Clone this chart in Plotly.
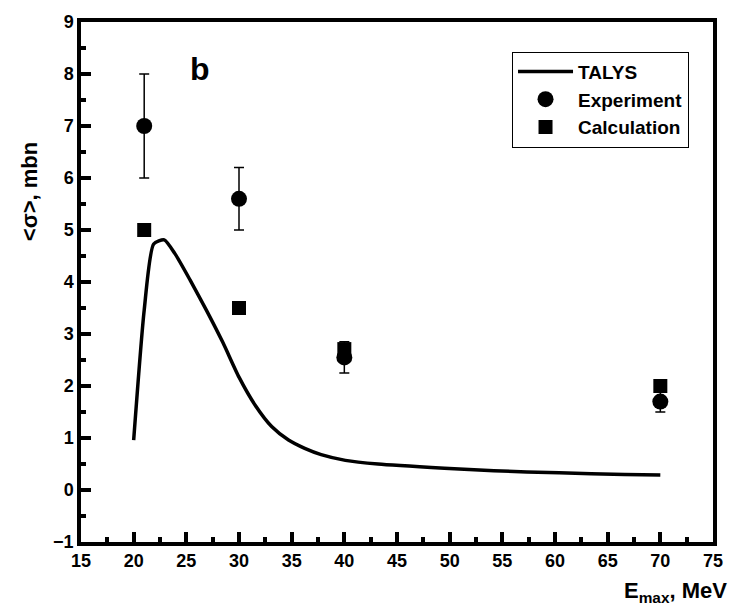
import plotly.graph_objects as go

talys_x = [20, 21, 21.9, 22.9, 23.9, 25.35, 26.9, 28.46, 30.0, 31.57, 33.1, 34.7, 36.24, 37.8, 40.1, 43.2, 49.5, 54.2, 60.4, 66.6, 70]
talys_y = [0.96, 3.46, 4.73, 4.81, 4.55, 4.04, 3.46, 2.84, 2.17, 1.62, 1.22, 0.96, 0.8, 0.68, 0.57, 0.5, 0.42, 0.37, 0.33, 0.30, 0.29]

exp_x = [21, 30, 40, 70]
exp_y = [7.0, 5.6, 2.55, 1.7]
exp_err = [1.0, 0.6, 0.3, 0.2]

calc_x = [21, 30, 40, 70]
calc_y = [5.0, 3.5, 2.71, 2.0]

FONT = "Arial, Liberation Sans, sans-serif"

fig = go.Figure()
fig.add_trace(go.Scatter(x=talys_x, y=talys_y, mode="lines", name="TALYS",
                         line=dict(color="black", width=3.5, shape="spline", smoothing=0.6)))
fig.add_trace(go.Scatter(x=exp_x, y=exp_y, mode="markers", name="Experiment",
                         marker=dict(symbol="circle", size=16, color="black"),
                         error_y=dict(type="data", array=exp_err, color="black",
                                      thickness=1.5, width=5)))
fig.add_trace(go.Scatter(x=calc_x, y=calc_y, mode="markers", name="Calculation",
                         marker=dict(symbol="square", size=14, color="black")))

axis_common = dict(showline=True, linecolor="black", linewidth=3.5, mirror=True,
                   ticks="inside", ticklen=10, tickwidth=3.5, tickcolor="black",
                   showgrid=False, zeroline=False,
                   tickfont=dict(family=FONT, size=18, color="black", weight="bold"))

fig.update_xaxes(range=[15, 75], tick0=15, dtick=5,
                 minor=dict(ticks="inside", ticklen=5, tickwidth=3.5, tickcolor="black", dtick=2.5),
                 **axis_common)
fig.update_yaxes(range=[-1, 9], tick0=-1, dtick=1,
                 minor=dict(ticks="inside", ticklen=5, tickwidth=3.5, tickcolor="black", dtick=0.5),
                 **axis_common)

fig.add_annotation(text="b", x=26.3, y=8.1, xref="x", yref="y", showarrow=False,
                   font=dict(family=FONT, size=32, color="black", weight="bold"))
fig.add_annotation(text="<σ>, mbn", x=-0.082, y=0.673, xref="paper", yref="paper",
                   showarrow=False, textangle=-90, xanchor="center", yanchor="middle",
                   font=dict(family=FONT, size=22, color="black", weight="bold"))
fig.add_annotation(text="E<sub>max</sub>, MeV", x=1.026, y=-0.066, xref="paper", yref="paper",
                   showarrow=False, xanchor="right", yanchor="top",
                   font=dict(family=FONT, size=22, color="black", weight="bold"))

fig.update_layout(
    width=735, height=609,
    margin=dict(l=81, r=12, t=22, b=67),
    paper_bgcolor="white", plot_bgcolor="white",
    showlegend=True,
    legend=dict(x=0.682, y=0.943, xanchor="left", yanchor="top",
                bordercolor="black", borderwidth=1, bgcolor="white",
                font=dict(family=FONT, size=19, color="black", weight="bold"),
                tracegroupgap=0, itemwidth=55),
)

fig.write_html("out.html")
